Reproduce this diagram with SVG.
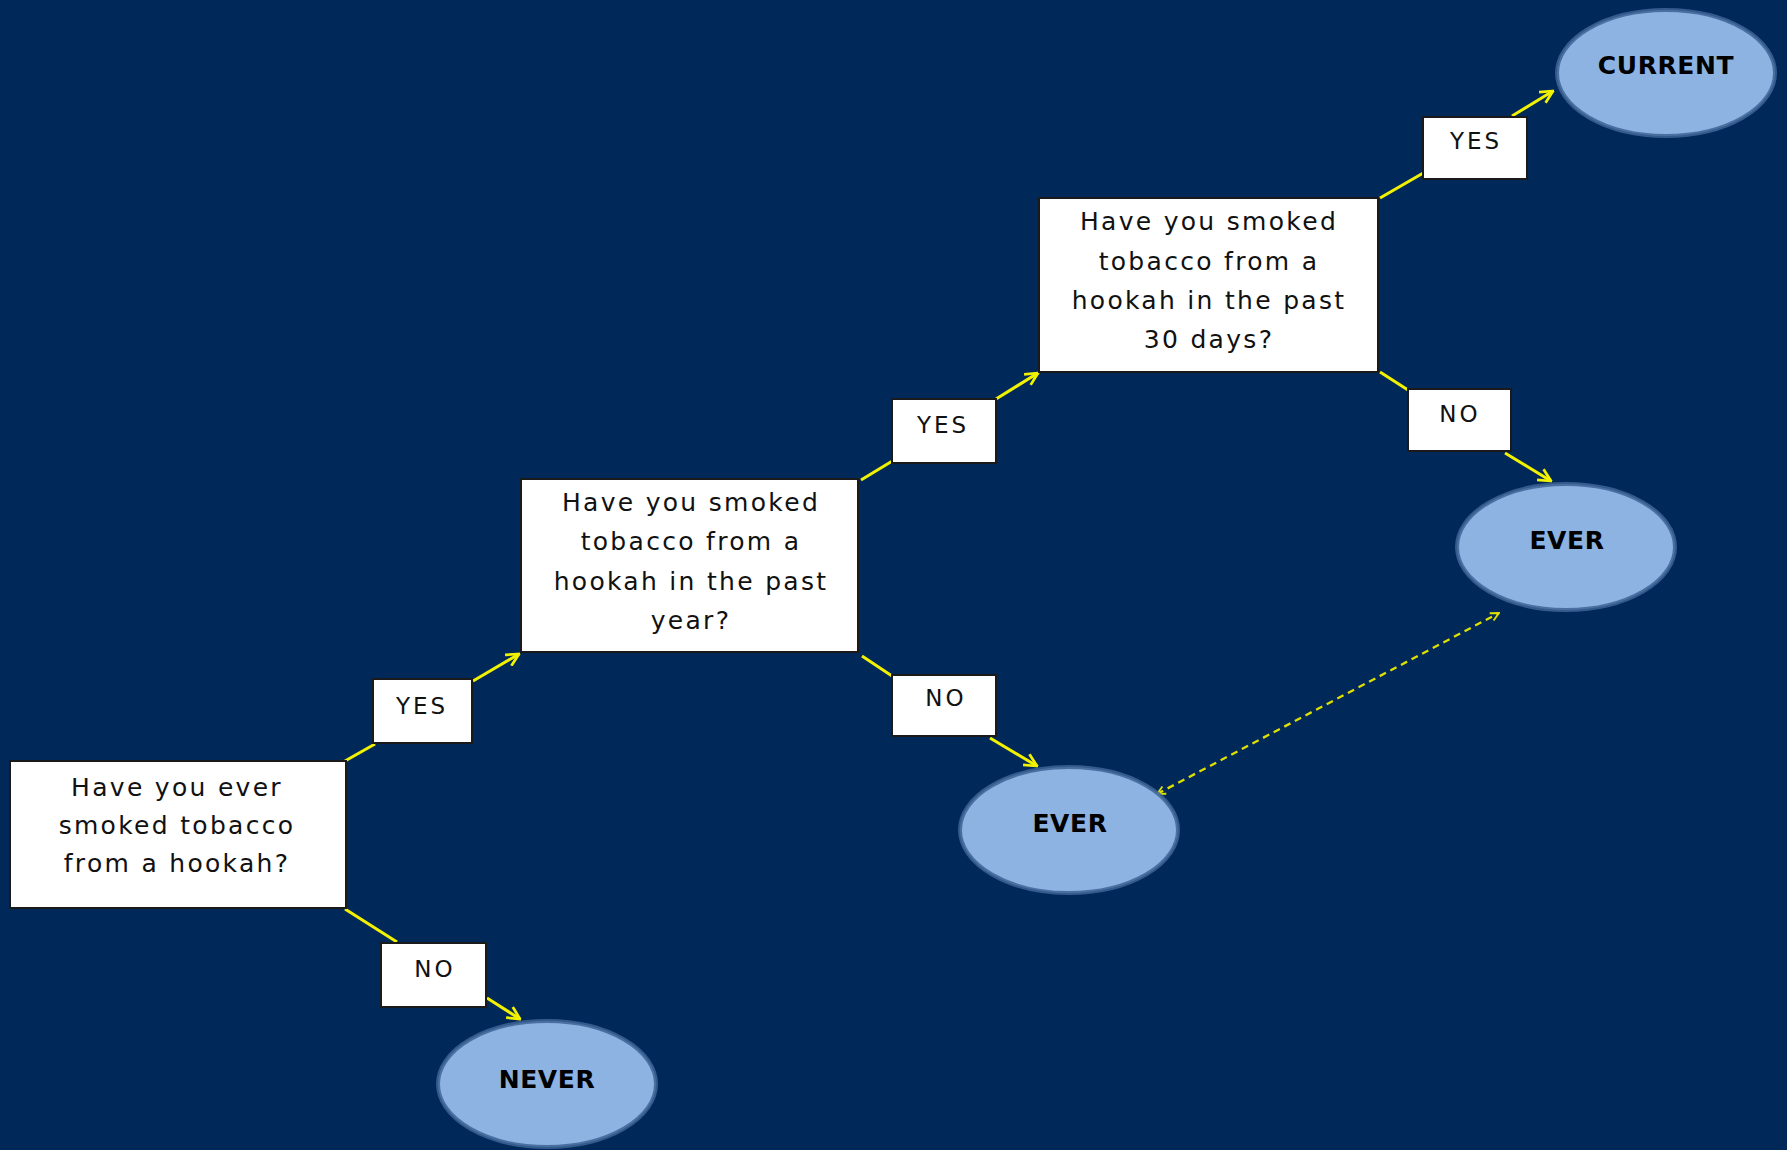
<svg xmlns="http://www.w3.org/2000/svg" width="1787" height="1150" viewBox="0 0 1787 1150">
<style>
.q{fill:#fff;stroke:#1a1a1a;stroke-width:2}
.qt{font-family:"DejaVu Sans",Verdana,sans-serif;font-size:25px;letter-spacing:2.3px;fill:#111;text-anchor:middle}
.lt{font-family:"DejaVu Sans",Verdana,sans-serif;font-size:23px;letter-spacing:3px;fill:#111;text-anchor:middle}
.o{fill:#8DB3E2;stroke:#3E6496;stroke-width:4;stroke-opacity:0.85}
.ot{font-family:"DejaVu Sans",Verdana,sans-serif;font-size:25px;font-weight:bold;letter-spacing:0.6px;fill:#000;text-anchor:middle}
.c{stroke:#F2F200;stroke-width:3;fill:none}
.a{marker-end:url(#ah)}
.d{stroke:#E0E000;stroke-width:2.3;fill:none;stroke-dasharray:7 5;marker-start:url(#sh);marker-end:url(#sh)}
</style>
<defs>
<marker id="ah" viewBox="0 0 12 12" markerUnits="userSpaceOnUse" markerWidth="15" markerHeight="15" refX="11" refY="6" orient="auto">
<path d="M1,1 L11,6 L1,11" fill="none" stroke="#F2F200" stroke-width="2.2"/>
</marker>
<marker id="sh" viewBox="0 0 12 12" markerUnits="userSpaceOnUse" markerWidth="10" markerHeight="10" refX="11" refY="6" orient="auto-start-reverse">
<path d="M1,1 L11,6 L1,11" fill="none" stroke="#E0E000" stroke-width="2.2"/>
</marker>
</defs>
<rect x="0" y="0" width="1787" height="1150" fill="#00295A"/>
<g id="connectors">
<path class="c" d="M345,761 L375,744"/>
<path class="c a" d="M473,681 L519,654"/>
<path class="c" d="M345,909 L397,942"/>
<path class="c a" d="M487,998 L520,1019"/>
<path class="c" d="M861,480 L894,460"/>
<path class="c a" d="M996,399 L1038,373"/>
<path class="c" d="M862,656 L892,676"/>
<path class="c a" d="M990,738 L1037,766"/>
<path class="c" d="M1380,198 L1425,172"/>
<path class="c a" d="M1512,116 L1553,91"/>
<path class="c" d="M1380,372 L1408,390"/>
<path class="c a" d="M1505,453 L1551,481"/>
<path class="d" d="M1157,794 L1499,613"/>
</g>
<g id="q1">
<rect class="q" x="10" y="761" width="336" height="147"/>
<text class="qt" x="177" y="796">Have you ever</text>
<text class="qt" x="177" y="834">smoked tobacco</text>
<text class="qt" x="177" y="872">from a hookah?</text>
</g>
<g id="yes1">
<rect class="q" x="373" y="679" width="99" height="64"/>
<text class="lt" x="422" y="714">YES</text>
</g>
<g id="no1">
<rect class="q" x="381" y="943" width="105" height="64"/>
<text class="lt" x="435" y="977">NO</text>
</g>
<g id="never">
<ellipse class="o" cx="547" cy="1084" rx="109" ry="63"/>
<text class="ot" x="547" y="1088">NEVER</text>
</g>
<g id="q2">
<rect class="q" x="521" y="479" width="337" height="173"/>
<text class="qt" x="691" y="511">Have you smoked</text>
<text class="qt" x="691" y="550">tobacco from a</text>
<text class="qt" x="691" y="590">hookah in the past</text>
<text class="qt" x="691" y="629">year?</text>
</g>
<g id="yes2">
<rect class="q" x="892" y="399" width="104" height="64"/>
<text class="lt" x="943" y="433">YES</text>
</g>
<g id="no2">
<rect class="q" x="892" y="675" width="104" height="61"/>
<text class="lt" x="946" y="706">NO</text>
</g>
<g id="ever1">
<ellipse class="o" cx="1069" cy="830" rx="109" ry="63"/>
<text class="ot" x="1070" y="832">EVER</text>
</g>
<g id="q3">
<rect class="q" x="1039" y="198" width="339" height="174"/>
<text class="qt" x="1209" y="230">Have you smoked</text>
<text class="qt" x="1209" y="270">tobacco from a</text>
<text class="qt" x="1209" y="309">hookah in the past</text>
<text class="qt" x="1209" y="348">30 days?</text>
</g>
<g id="yes3">
<rect class="q" x="1423" y="117" width="104" height="62"/>
<text class="lt" x="1476" y="149">YES</text>
</g>
<g id="no3">
<rect class="q" x="1408" y="389" width="103" height="62"/>
<text class="lt" x="1460" y="422">NO</text>
</g>
<g id="current">
<ellipse class="o" cx="1666" cy="73" rx="109" ry="63"/>
<text class="ot" x="1666" y="74">CURRENT</text>
</g>
<g id="ever2">
<ellipse class="o" cx="1566" cy="547" rx="109" ry="63"/>
<text class="ot" x="1567" y="549">EVER</text>
</g>
</svg>
